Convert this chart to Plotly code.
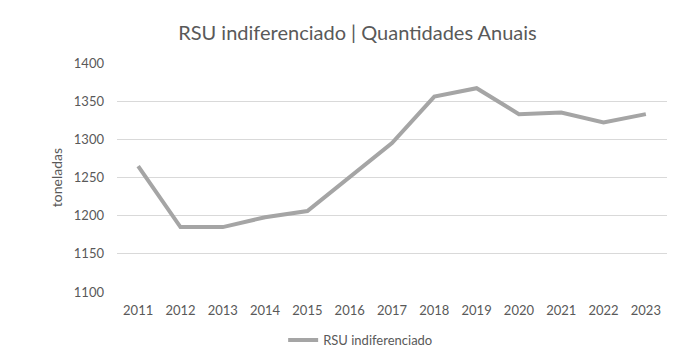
import plotly.graph_objects as go

years = ["2011", "2012", "2013", "2014", "2015", "2016", "2017", "2018", "2019", "2020", "2021", "2022", "2023"]
values = [1265, 1185, 1185, 1198, 1206, 1251, 1295, 1356, 1367, 1333, 1335, 1322, 1333]
series_name = "RSU indiferenciado"
title_text = "RSU indiferenciado | Quantidades Anuais"
y_title = "toneladas"

FONT = "Lato, 'Open Sans', sans-serif"
TXT = "#595959"

fig = go.Figure()
fig.add_trace(go.Scatter(
    x=years, y=values, mode="lines", name=series_name,
    line=dict(color="#A5A5A5", width=4),
))

# page body has an 8px default margin, so the figure is sized 692x356
fig.update_layout(
    width=692, height=356,
    margin=dict(l=109, r=33, t=55, b=72, autoexpand=False),
    paper_bgcolor="white", plot_bgcolor="white",
    title=dict(text=title_text, x=0.505, xanchor="center", xref="container",
               y=0.93, yanchor="middle", yref="container",
               font=dict(family=FONT, size=20, color=TXT)),
    showlegend=True,
    legend=dict(orientation="h", x=0.443, xanchor="center", y=0.067, yanchor="middle",
                yref="container",
                font=dict(family=FONT, size=13, color=TXT)),
    font=dict(family=FONT, size=13, color=TXT),
)
fig.update_xaxes(type="category", range=[-0.5, len(years) - 0.5], showgrid=False,
                 showline=False, zeroline=False, automargin=False,
                 ticks="", ticklabelstandoff=9,
                 tickfont=dict(family=FONT, size=13, color=TXT))
fig.update_yaxes(range=[1100, 1400], dtick=50, showgrid=True, gridcolor="#D9D9D9",
                 gridwidth=1, zeroline=False, showline=False, ticks="",
                 ticklabelstandoff=12, automargin=False,
                 tickfont=dict(family=FONT, size=13, color=TXT),
                 title=dict(text=y_title, font=dict(family=FONT, size=14, color=TXT), standoff=7))

fig.write_html("out.html")
